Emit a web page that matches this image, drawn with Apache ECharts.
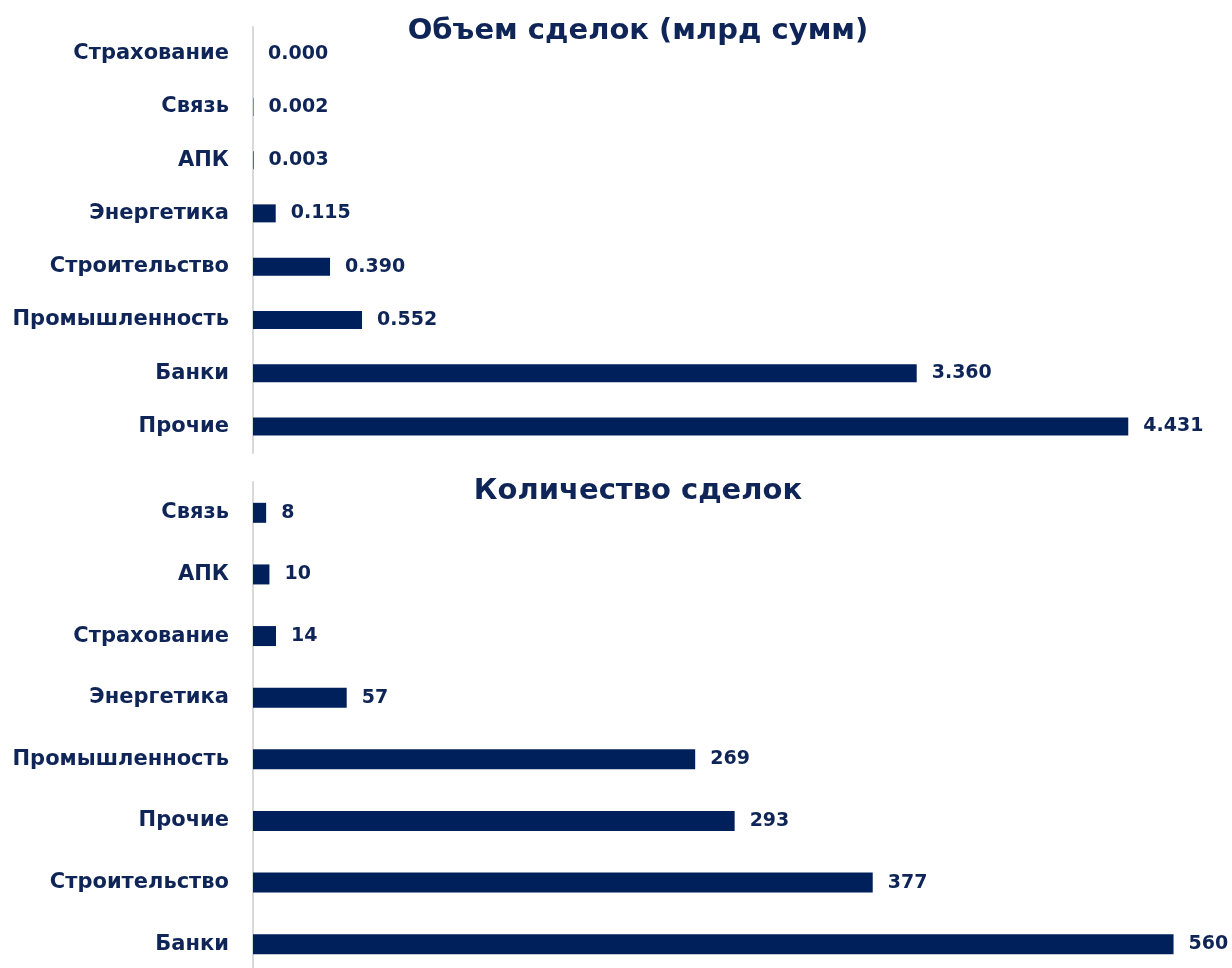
<!DOCTYPE html>
<html>
<head>
<meta charset="utf-8">
<script src="https://cdn.jsdelivr.net/npm/echarts@6/dist/echarts.min.js"></script>
<style>
  html, body { margin: 0; padding: 0; background: #fff; }
  #chart { width: 1232px; height: 968px; }
</style>
</head>
<body>
<div id="chart"></div>
<script>
// Объем сделок (млрд сумм)
const volumeCats = ['Страхование', 'Связь', 'АПК', 'Энергетика', 'Строительство', 'Промышленность', 'Банки', 'Прочие'];
const volumeVals = [0.000, 0.002, 0.003, 0.115, 0.390, 0.552, 3.360, 4.431];
// Количество сделок
const countCats = ['Связь', 'АПК', 'Страхование', 'Энергетика', 'Промышленность', 'Прочие', 'Строительство', 'Банки'];
const countVals = [8, 10, 14, 57, 269, 293, 377, 560];

const navy = '#00205b';
const textColor = '#0f2557';
const font = 'DejaVu Sans';

let myChart = echarts.init(document.getElementById('chart'));

function catAxis(idx, data) {
  return {
    type: 'category',
    gridIndex: idx,
    inverse: true,
    data: data,
    axisLine: { lineStyle: { color: '#d9d9d9', width: 2 } },
    axisTick: { show: false },
    axisLabel: {
      color: textColor,
      fontFamily: font,
      fontWeight: 'bold',
      fontSize: 21,
      margin: 24
    }
  };
}

function valAxis(idx, max) {
  return {
    type: 'value',
    gridIndex: idx,
    min: 0,
    max: max,
    show: false,
    splitLine: { show: false }
  };
}

function barSeries(idx, data, width, fmt) {
  return {
    type: 'bar',
    xAxisIndex: idx,
    yAxisIndex: idx,
    data: data,
    barWidth: width,
    itemStyle: { color: navy },
    label: {
      show: true,
      position: 'right',
      distance: 15,
      color: textColor,
      fontFamily: font,
      fontWeight: 'bold',
      fontSize: 19,
      formatter: fmt
    }
  };
}

let option = {
  animation: false,
  title: [
    {
      text: 'Объем сделок (млрд сумм)',
      left: 633,
      top: 12,
      textAlign: 'center',
      textStyle: { color: textColor, fontFamily: font, fontWeight: 'bold', fontSize: 29 }
    },
    {
      text: 'Количество сделок',
      left: 633,
      top: 472,
      textAlign: 'center',
      textStyle: { color: textColor, fontFamily: font, fontWeight: 'bold', fontSize: 29 }
    }
  ],
  grid: [
    { left: 253, top: 27, width: 960, height: 426, outerBoundsMode: 'none' },
    { left: 253, top: 482, width: 960, height: 493, outerBoundsMode: 'none' }
  ],
  xAxis: [valAxis(0, 4.86), valAxis(1, 584)],
  yAxis: [catAxis(0, volumeCats), catAxis(1, countCats)],
  series: [
    barSeries(0, volumeVals, 18, p => p.value.toFixed(3)),
    barSeries(1, countVals, 20, p => String(p.value))
  ]
};

myChart.setOption(option);
</script>
</body>
</html>
